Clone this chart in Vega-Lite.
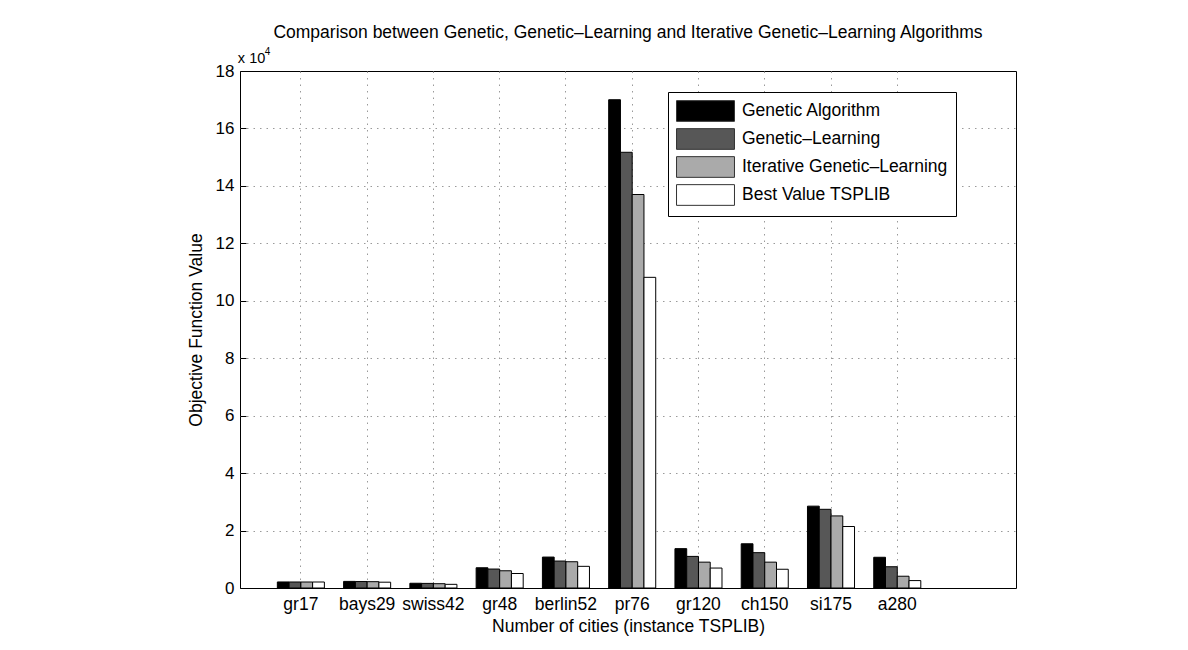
{
  "$schema": "https://vega.github.io/schema/vega-lite/v6.json",
  "width": 776,
  "height": 517,
  "autosize": {"type": "none"},
  "padding": {"left": 240, "top": 71, "right": 172, "bottom": 62},
  "background": "white",
  "config": {
    "font": "Liberation Sans",
    "view": {"stroke": "black", "strokeWidth": 1},
    "axis": {"labelFont": "Liberation Sans", "titleFont": "Liberation Sans", "labelColor": "black", "titleColor": "black", "titleFontWeight": "normal"}
  },
  "title": {
    "text": "Comparison between Genetic, Genetic–Learning and Iterative Genetic–Learning Algorithms",
    "fontSize": 17.5,
    "fontWeight": "normal",
    "font": "Liberation Sans",
    "color": "black",
    "anchor": "middle",
    "frame": "group",
    "offset": 6
  },
  "datasets": {
    "tsp": [
      {"city": "gr17", "algorithm": "Genetic Algorithm", "value": 2100},
      {"city": "gr17", "algorithm": "Genetic–Learning", "value": 2090},
      {"city": "gr17", "algorithm": "Iterative Genetic–Learning", "value": 2085},
      {"city": "gr17", "algorithm": "Best Value TSPLIB", "value": 2085},
      {"city": "bays29", "algorithm": "Genetic Algorithm", "value": 2300},
      {"city": "bays29", "algorithm": "Genetic–Learning", "value": 2250},
      {"city": "bays29", "algorithm": "Iterative Genetic–Learning", "value": 2200},
      {"city": "bays29", "algorithm": "Best Value TSPLIB", "value": 2020},
      {"city": "swiss42", "algorithm": "Genetic Algorithm", "value": 1650},
      {"city": "swiss42", "algorithm": "Genetic–Learning", "value": 1600},
      {"city": "swiss42", "algorithm": "Iterative Genetic–Learning", "value": 1500},
      {"city": "swiss42", "algorithm": "Best Value TSPLIB", "value": 1273},
      {"city": "gr48", "algorithm": "Genetic Algorithm", "value": 7050},
      {"city": "gr48", "algorithm": "Genetic–Learning", "value": 6600},
      {"city": "gr48", "algorithm": "Iterative Genetic–Learning", "value": 6000},
      {"city": "gr48", "algorithm": "Best Value TSPLIB", "value": 5046},
      {"city": "berlin52", "algorithm": "Genetic Algorithm", "value": 10770},
      {"city": "berlin52", "algorithm": "Genetic–Learning", "value": 9380},
      {"city": "berlin52", "algorithm": "Iterative Genetic–Learning", "value": 9140},
      {"city": "berlin52", "algorithm": "Best Value TSPLIB", "value": 7542},
      {"city": "pr76", "algorithm": "Genetic Algorithm", "value": 170000},
      {"city": "pr76", "algorithm": "Genetic–Learning", "value": 151700},
      {"city": "pr76", "algorithm": "Iterative Genetic–Learning", "value": 137000},
      {"city": "pr76", "algorithm": "Best Value TSPLIB", "value": 108159},
      {"city": "gr120", "algorithm": "Genetic Algorithm", "value": 13700},
      {"city": "gr120", "algorithm": "Genetic–Learning", "value": 11000},
      {"city": "gr120", "algorithm": "Iterative Genetic–Learning", "value": 9000},
      {"city": "gr120", "algorithm": "Best Value TSPLIB", "value": 6942},
      {"city": "ch150", "algorithm": "Genetic Algorithm", "value": 15400},
      {"city": "ch150", "algorithm": "Genetic–Learning", "value": 12300},
      {"city": "ch150", "algorithm": "Iterative Genetic–Learning", "value": 9000},
      {"city": "ch150", "algorithm": "Best Value TSPLIB", "value": 6528},
      {"city": "si175", "algorithm": "Genetic Algorithm", "value": 28500},
      {"city": "si175", "algorithm": "Genetic–Learning", "value": 27400},
      {"city": "si175", "algorithm": "Iterative Genetic–Learning", "value": 25100},
      {"city": "si175", "algorithm": "Best Value TSPLIB", "value": 21407},
      {"city": "a280", "algorithm": "Genetic Algorithm", "value": 10700},
      {"city": "a280", "algorithm": "Genetic–Learning", "value": 7400},
      {"city": "a280", "algorithm": "Iterative Genetic–Learning", "value": 4100},
      {"city": "a280", "algorithm": "Best Value TSPLIB", "value": 2579}
    ]
  },
  "layer": [
    {
      "data": {"name": "tsp"},
      "mark": {"type": "bar", "stroke": "black", "strokeWidth": 1},
      "encoding": {
        "x": {
          "field": "city",
          "type": "nominal",
          "scale": {
            "domain": ["gr17", "bays29", "swiss42", "gr48", "berlin52", "pr76", "gr120", "ch150", "si175", "a280"],
            "paddingInner": 0.29,
            "paddingOuter": 1.145,
            "align": 0.2817
          },
          "axis": {
            "title": "Number of cities (instance TSPLIB)",
            "titleFontSize": 17.5,
            "titlePadding": 5,
            "labelFontSize": 17.5,
            "labelAngle": 0,
            "labelPadding": 13,
            "bandPosition": 0.5,
            "ticks": true,
            "tickSize": -6,
            "tickColor": "black",
            "domain": false,
            "grid": true,
            "gridColor": "#9a9a9a",
            "gridDash": [1.5, 5],
            "gridWidth": 1
          }
        },
        "xOffset": {
          "field": "algorithm",
          "type": "nominal",
          "scale": {
            "domain": ["Genetic Algorithm", "Genetic–Learning", "Iterative Genetic–Learning", "Best Value TSPLIB"],
            "paddingInner": 0,
            "paddingOuter": 0
          }
        },
        "y": {
          "field": "value",
          "type": "quantitative",
          "scale": {"domain": [0, 180000], "nice": false},
          "axis": {
            "title": "Objective Function Value",
            "titleFontSize": 17.5,
            "titlePadding": 10,
            "labelFontSize": 17,
            "labelPadding": 12,
            "values": [0, 20000, 40000, 60000, 80000, 100000, 120000, 140000, 160000, 180000],
            "labelExpr": "datum.value / 10000",
            "ticks": true,
            "tickSize": -6,
            "tickColor": "black",
            "domain": false,
            "grid": true,
            "gridColor": "#9a9a9a",
            "gridDash": [1.5, 5],
            "gridWidth": 1,
            "gridOpacity": {"condition": {"test": "datum.value == 0 || datum.value == 180000", "value": 0}, "value": 1}
          }
        },
        "fill": {
          "field": "algorithm",
          "type": "nominal",
          "scale": {
            "domain": ["Genetic Algorithm", "Genetic–Learning", "Iterative Genetic–Learning", "Best Value TSPLIB"],
            "range": ["#000000", "#575757", "#aaaaaa", "#ffffff"]
          },
          "legend": {
            "title": null,
            "orient": "none",
            "legendX": 428,
            "legendY": 21,
            "symbolType": "M-2.76,-0.986H2.76V0.986H-2.76Z",
            "symbolSize": 441,
            "symbolOffset": 18.5,
            "symbolStrokeColor": "#333333",
            "symbolStrokeWidth": 1,
            "labelFontSize": 17.5,
            "labelFont": "Liberation Sans",
            "labelColor": "black",
            "labelOffset": 25.5,
            "labelLimit": 300,
            "rowPadding": 2,
            "padding": 8,
            "strokeColor": "black",
            "fillColor": "white"
          }
        }
      }
    },
    {
      "data": {"values": [{"t": "x 10"}]},
      "mark": {"type": "text", "align": "left", "baseline": "alphabetic", "fontSize": 14.5, "font": "Liberation Sans", "color": "black", "dx": -63, "dy": -8},
      "encoding": {
        "x": {"datum": "gr17"},
        "y": {"datum": 180000},
        "text": {"field": "t"}
      }
    },
    {
      "data": {"values": [{"t": "4"}]},
      "mark": {"type": "text", "align": "left", "baseline": "alphabetic", "fontSize": 10, "font": "Liberation Sans", "color": "black", "dx": -36, "dy": -16},
      "encoding": {
        "x": {"datum": "gr17"},
        "y": {"datum": 180000},
        "text": {"field": "t"}
      }
    }
  ]
}
